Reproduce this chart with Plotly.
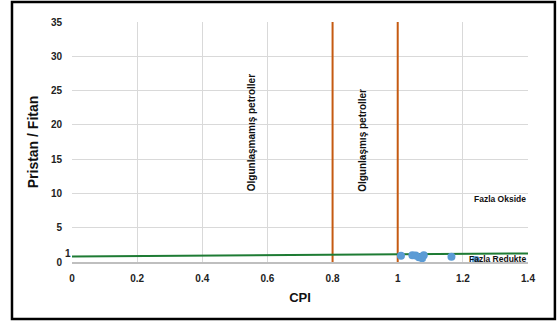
import plotly.graph_objects as go

# Data
cpi = [1.01, 1.045, 1.055, 1.065, 1.075, 1.08, 1.165, 1.24]
pr_ph = [0.9, 1.0, 0.95, 0.7, 0.55, 1.0, 0.75, 0.3]

trend_x = [0, 1.4]
trend_y = [0.8, 1.25]

maturity_limits = [0.8, 1.0]

x_ticks = [0, 0.2, 0.4, 0.6, 0.8, 1.0, 1.2, 1.4]
x_ticktext = ["0", "0.2", "0.4", "0.6", "0.8", "1", "1.2", "1.4"]
y_ticks = [0, 5, 10, 15, 20, 25, 30, 35]

fig = go.Figure()

for xv in maturity_limits:
    fig.add_trace(go.Scatter(x=[xv, xv], y=[0, 35], mode="lines",
                             line=dict(color="#C55A11", width=2), hoverinfo="skip"))

fig.add_trace(go.Scatter(x=trend_x, y=trend_y, mode="lines",
                         line=dict(color="#1E7B34", width=2), hoverinfo="skip"))

fig.add_trace(go.Scatter(x=cpi, y=pr_ph, mode="markers",
                         marker=dict(color="#5B9BD5", size=8)))

FAM = "Liberation Sans, Arial"
font_tick = dict(family=FAM, size=10, color="#222222", weight="bold")

fig.update_xaxes(range=[0, 1.4], tickvals=x_ticks, ticktext=x_ticktext,
                 showgrid=True, gridcolor="#D9D9D9", gridwidth=1,
                 zeroline=False, showline=True, linecolor="#BFBFBF", linewidth=1.5,
                 tickfont=font_tick, ticklabelstandoff=6,
                 title=dict(text="<b>CPI</b>", font=dict(family=FAM, size=13, color="#111"), standoff=10))
fig.update_yaxes(range=[0, 35], tickvals=y_ticks,
                 showgrid=True, gridcolor="#D9D9D9", gridwidth=1,
                 zeroline=False, showline=False,
                 tickfont=font_tick, ticklabelstandoff=9,
                 title=dict(text="<b>Pristan / Fitan</b>", font=dict(family=FAM, size=14, color="#111"), standoff=8))

ann_font = dict(family=FAM, size=10, color="#111")
fig.add_annotation(x=0.55, y=18.8, text="<b>Olgunlaşmamış petroller</b>", textangle=-90,
                   showarrow=False, font=ann_font)
fig.add_annotation(x=0.893, y=17.8, text="<b>Olgunlaşmış petroller</b>", textangle=-90,
                   showarrow=False, font=ann_font)
fig.add_annotation(x=1.4, y=9.2, text="<b>Fazla Okside</b>", xanchor="right",
                   showarrow=False, font=dict(family=FAM, size=8.5, color="#111"))
fig.add_annotation(x=1.4, y=0.45, text="<b>Fazla Redukte</b>", xanchor="right",
                   showarrow=False, font=dict(family=FAM, size=8.5, color="#111"))
fig.add_annotation(xref="paper", x=0, y=1.2, text="<b>1</b>", xanchor="right",
                   showarrow=False, xshift=1, font=font_tick)

fig.add_shape(type="rect", xref="paper", yref="paper", x0=-0.1316, x1=1.059, y0=-0.2375, y1=1.083,
              line=dict(color="black", width=2.5), layer="above")

fig.update_layout(width=557, height=323, margin=dict(l=72, r=29, t=22, b=61),
                  plot_bgcolor="white", paper_bgcolor="white", showlegend=False)

fig.write_html("out.html", config={"displayModeBar": False},
               post_script="document.body.style.margin='0';document.body.style.padding='0';")
